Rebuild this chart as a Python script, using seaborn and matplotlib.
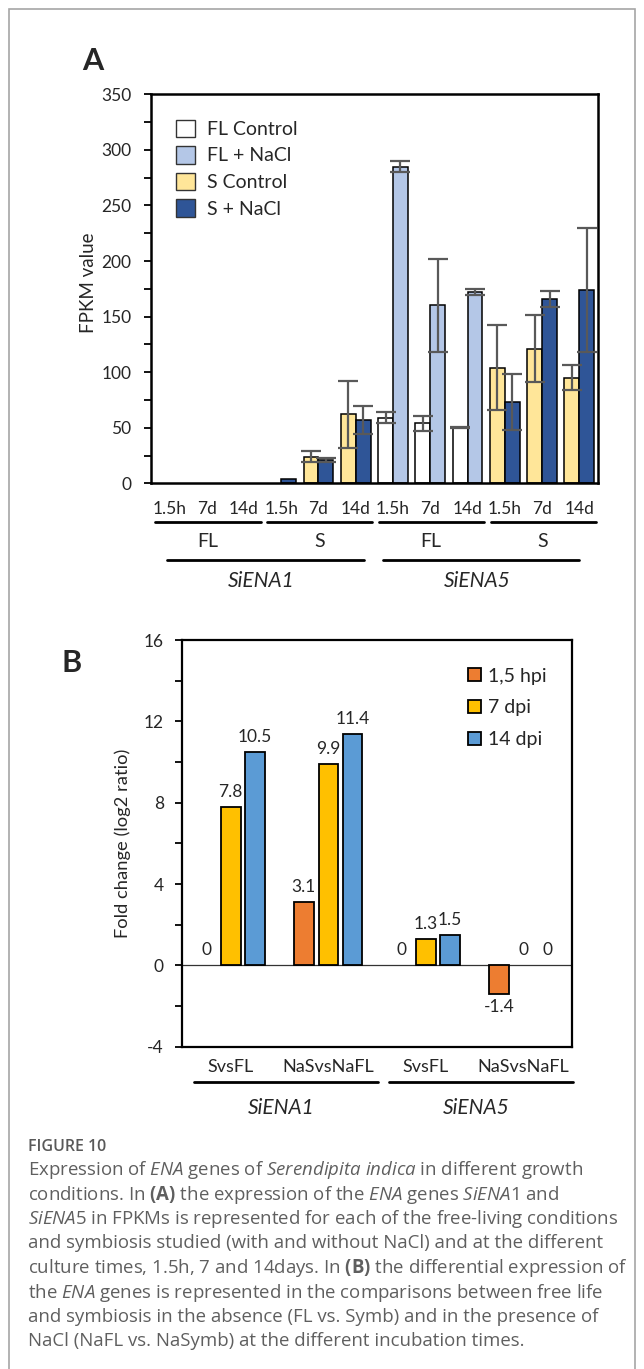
import matplotlib.pyplot as plt
import matplotlib.patches as mpatches
from matplotlib.ticker import MultipleLocator
import numpy as np
import pandas as pd
import seaborn as sns

# Panel A: FPKM values
genes = ["SiENA1", "SiENA5"]
conditions = ["FL", "S"]
times_a = ["1.5h", "7d", "14d"]
control_fpkm = [0, 0, 0, 0, 24, 62, 59, 54, 50, 104, 121, 95]
control_err = [0, 0, 0, 0, 5, 30, 5, 7, 0.5, 38, 30, 11]
nacl_fpkm = [0, 0, 0, 3.5, 21, 57, 285, 160, 172, 73, 166, 174]
nacl_err = [0, 0, 0, 0, 1.5, 13, 5, 42, 3, 25, 7, 56]
legend_a = ["FL Control", "FL + NaCl", "S Control", "S + NaCl"]

# Panel B: log2 fold change
comparisons = ["SvsFL", "NaSvsNaFL"]
times_b = ["1,5 hpi", "7 dpi", "14 dpi"]
fc_1_5h = [0, 3.1, 0, -1.4]
fc_7d = [7.8, 9.9, 1.3, 0]
fc_14d = [10.5, 11.4, 1.5, 0]

caption_lines = [
    r"Expression of $\mathit{ENA}$ genes of $\mathit{Serendipita\ indica}$ in different growth",
    r"conditions. In $\mathbf{(A)}$ the expression of the $\mathit{ENA}$ genes $\mathit{SiENA1}$ and",
    r"$\mathit{SiENA5}$ in FPKMs is represented for each of the free-living conditions",
    "and symbiosis studied (with and without NaCl) and at the different",
    r"culture times, 1.5h, 7 and 14days. In $\mathbf{(B)}$ the differential expression of",
    r"the $\mathit{ENA}$ genes is represented in the comparisons between free life",
    "and symbiosis in the absence (FL vs. Symb) and in the presence of",
    "NaCl (NaFL vs. NaSymb) at the different incubation times.",
]

sns.set_theme(style="ticks")
plt.rcParams["font.family"] = ["Lato", "DejaVu Sans"]
plt.rcParams["axes.unicode_minus"] = False
plt.rcParams["mathtext.fontset"] = "custom"
plt.rcParams["mathtext.rm"] = "Open Sans"
plt.rcParams["mathtext.it"] = "Open Sans:italic"
plt.rcParams["mathtext.bf"] = "Open Sans:bold"

W, H = 644, 1369


def fx(px):
    return px / W


def fy(py):
    return 1 - py / H


fig = plt.figure(figsize=(W / 100, H / 100), dpi=100)

# ---------------- Panel A ----------------
axA = fig.add_axes([fx(150.7), fy(483.3), 447.3 / W, 389 / H])

groups = [f"{g} {c} {t}" for g in genes for c in conditions for t in times_a]
group_cond = [c for g in genes for c in conditions for t in times_a]
dfA = pd.DataFrame({
    "group": groups * 2,
    "treatment": ["Control"] * len(groups) + ["NaCl"] * len(groups),
    "fpkm": control_fpkm + nacl_fpkm,
})
sns.barplot(data=dfA, x="group", y="fpkm", hue="treatment", order=groups,
            hue_order=["Control", "NaCl"], errorbar=None, width=0.8,
            edgecolor="black", linewidth=1.1, legend=False, ax=axA)

colA = {("FL", 0): "#FFFFFF", ("FL", 1): "#B4C7E7",
        ("S", 0): "#FFE699", ("S", 1): "#2F5597"}
errs = [control_err, nacl_err]
bar_conts = list(axA.containers)
for hi, cont in enumerate(bar_conts):
    for gi, bar in enumerate(cont):
        bar.set_facecolor(colA[(group_cond[gi], hi)])
        if bar.get_height() == 0:
            bar.set_linewidth(0)
        if errs[hi][gi] > 0:
            axA.errorbar(bar.get_x() + bar.get_width() / 2, bar.get_height(),
                         yerr=errs[hi][gi], color="#595959", lw=1.6,
                         capsize=7, capthick=1.6, zorder=5)

axA.set_ylim(0, 350)
axA.set_xlim(-0.5, 11.5)
axA.yaxis.set_major_locator(MultipleLocator(50))
axA.yaxis.set_minor_locator(MultipleLocator(25))
axA.tick_params(axis="y", which="both", direction="out", length=5, width=1.3,
                labelsize=12.5, pad=9, color="black")
axA.set_xticks(range(len(groups)))
axA.set_xticklabels(times_a * 4)
axA.tick_params(axis="x", length=0, labelsize=12.5, pad=13)
axA.set_xlabel("")
axA.set_ylabel("FPKM value", fontsize=13.5)
axA.yaxis.set_label_coords(-0.12, 0.515)
for s in axA.spines.values():
    s.set_visible(True)
    s.set_linewidth(1.8)
    s.set_color("black")

handles = [mpatches.Patch(facecolor=colA[k], edgecolor="#333333", lw=1.0)
           for k in [("FL", 0), ("FL", 1), ("S", 0), ("S", 1)]]
axA.legend(handles, legend_a, loc="upper left", bbox_to_anchor=(0.056, 0.935),
           frameon=False, fontsize=14, handlelength=1.0, handleheight=1.0,
           handletextpad=0.6, labelspacing=0.42, borderpad=0, borderaxespad=0)

trA = axA.get_xaxis_transform()
for k in range(4):
    axA.plot([3 * k - 0.38, 3 * k + 2.45], [-0.099, -0.099], transform=trA,
             clip_on=False, color="black", lw=2)
    axA.text(3 * k + 1.02, -0.150, conditions[k % 2], transform=trA,
             ha="center", va="center", fontsize=14)
for g, (x0, x1) in enumerate([(-0.05, 5.22), (5.74, 11.0)]):
    axA.plot([x0, x1], [-0.197, -0.197], transform=trA, clip_on=False,
             color="black", lw=2)
    axA.text((x0 + x1) / 2 - 0.12, -0.250, genes[g], transform=trA,
             ha="center", va="center", fontsize=15, fontstyle="italic")

fig.text(fx(82), fy(70), "A", fontsize=22, weight="bold", va="baseline")

# ---------------- Panel B ----------------
axB = fig.add_axes([fx(182), fy(1046.7), 390 / W, 406.7 / H])

cats = [f"{g} {c}" for g in genes for c in comparisons]
dfB = pd.DataFrame({
    "comparison": cats * 3,
    "time": np.repeat(times_b, len(cats)),
    "fc": fc_1_5h + fc_7d + fc_14d,
})
colB = ["#ED7D31", "#FFC000", "#5B9BD5"]
sns.barplot(data=dfB, x="comparison", y="fc", hue="time", order=cats,
            hue_order=times_b, palette=colB, saturation=1, errorbar=None,
            width=0.75, gap=0.2, edgecolor="black", linewidth=1.3,
            legend=False, ax=axB)

for cont, vals in zip(list(axB.containers), [fc_1_5h, fc_7d, fc_14d]):
    for bar, v in zip(cont, vals):
        if v == 0:
            bar.set_linewidth(0)
        xc = bar.get_x() + bar.get_width() / 2
        off = -4 if v < 0 else 5
        axB.annotate(f"{v:g}", (xc, v), xytext=(0, off),
                     textcoords="offset points", ha="center",
                     va="top" if v < 0 else "bottom", fontsize=12.5)

axB.axhline(0, color="#333333", lw=0.9, zorder=0.5)
axB.set_ylim(-4, 16)
axB.set_xlim(-0.5, 3.5)
axB.yaxis.set_major_locator(MultipleLocator(4))
axB.yaxis.set_minor_locator(MultipleLocator(2))
axB.tick_params(axis="y", which="both", direction="out", length=5, width=1.3,
                labelsize=12.5, pad=8, color="black")
axB.set_xticks(range(len(cats)))
axB.set_xticklabels(comparisons * 2)
axB.tick_params(axis="x", length=0, labelsize=13, pad=9)
axB.set_xlabel("")
axB.set_ylabel("Fold change (log2 ratio)", fontsize=13.2)
axB.yaxis.set_label_coords(-0.13, 0.5)
for s in axB.spines.values():
    s.set_visible(True)
    s.set_linewidth(1.6)
    s.set_color("black")

handlesB = [mpatches.Patch(facecolor=c, edgecolor="black", lw=1.3) for c in colB]
axB.legend(handlesB, times_b, loc="upper left", bbox_to_anchor=(0.733, 0.932),
           frameon=False, fontsize=14, handlelength=0.65, handleheight=0.65,
           handletextpad=0.4, labelspacing=0.76, borderpad=0, borderaxespad=0)

trB = axB.get_xaxis_transform()
for g, (x0, x1) in enumerate([(-0.377, 1.51), (1.623, 3.51)]):
    axB.plot([x0, x1], [-0.086, -0.086], transform=trB, clip_on=False,
             color="black", lw=2)
    axB.text((x0 + x1) / 2 - 0.05, -0.151, genes[g], transform=trB,
             ha="center", va="center", fontsize=15, fontstyle="italic")

fig.text(fx(62), fy(672), "B", fontsize=22, weight="bold", va="baseline")

# ---------------- caption & frame ----------------
fig.text(fx(28), fy(1147), "FIGURE 10", fontsize=11.5, weight="semibold",
         color="#595959", family="Open Sans", va="center")
for i, line in enumerate(caption_lines):
    fig.text(fx(28), fy(1170 + 24.5 * i), line, fontsize=13.4,
             color="#5f5f5f", family="Open Sans", va="center")

fig.add_artist(mpatches.Rectangle((fx(9), -0.01), fx(635) - fx(9), fy(9) + 0.01,
                                  transform=fig.transFigure, fill=False,
                                  edgecolor="#a6a6a6", lw=1.2))

fig.savefig("out.png", dpi=100)
